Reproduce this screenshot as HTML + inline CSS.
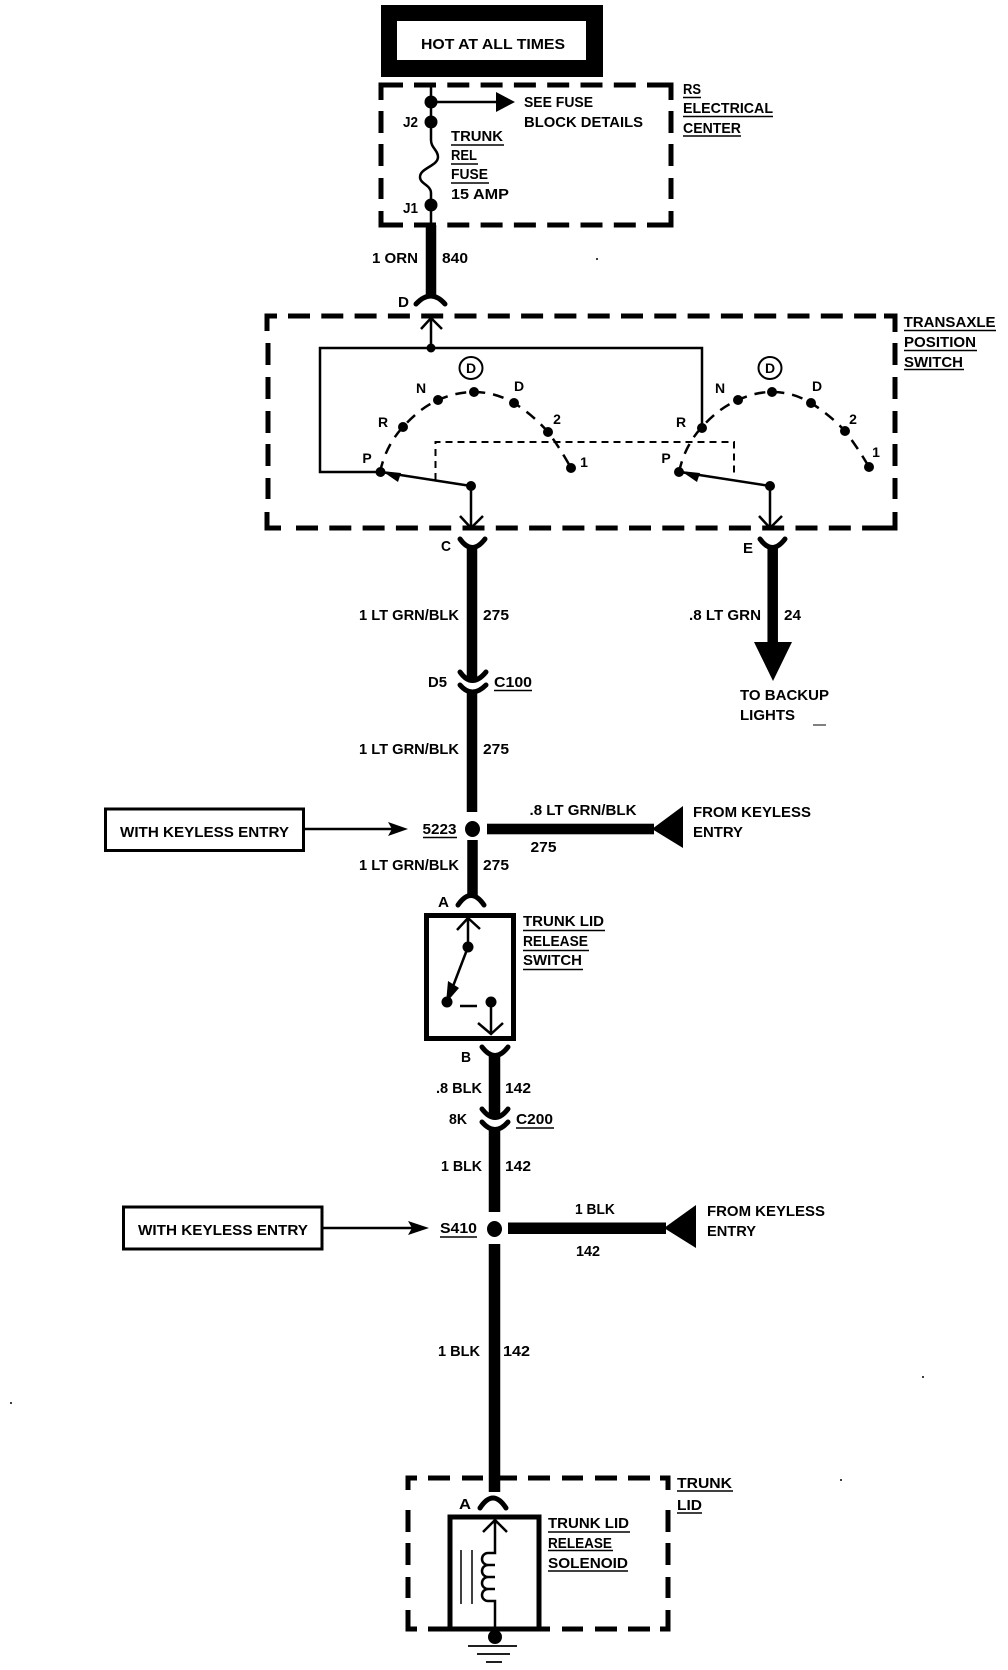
<!DOCTYPE html>
<html><head><meta charset="utf-8"><style>
html,body{margin:0;padding:0;background:#fff}
svg{display:block}
text{font-family:"Liberation Sans",sans-serif;font-size:15px;font-weight:bold;fill:#000}
.w{fill:none;stroke:#000;stroke-width:10.5}
.c{fill:none;stroke:#000;stroke-width:5;stroke-linecap:round}
.d{fill:none;stroke:#000;stroke-width:5}
.t{fill:none;stroke:#000;stroke-width:2.5}
.u{stroke:#000;stroke-width:1.5}
</style></head><body>
<svg width="1008" height="1670" viewBox="0 0 1008 1670" xmlns="http://www.w3.org/2000/svg">
<rect width="1008" height="1670" fill="#fff"/>

<!-- HOT box -->
<rect x="381" y="5" width="222" height="72" fill="#000"/>
<rect x="397" y="21" width="189" height="39" fill="#fff"/>
<text x="421" y="49" textLength="144" lengthAdjust="spacingAndGlyphs">HOT AT ALL TIMES</text>

<!-- RS box -->
<path class="d" d="M381 100V85H403"/>
<path class="d" d="M647 85H671V100"/>
<path class="d" d="M414 85H647" stroke-dasharray="22 11.3"/>
<path class="d" d="M381 111V133M381 144V166M381 178V199M671 111V133M671 144V166M671 178V199"/>
<path class="d" d="M381 211V225H403M647 225H671V211"/>
<path class="d" d="M414 225H647" stroke-dasharray="22 11.3"/>

<path class="t" d="M431 85V140C431 148 438 150 438 157C438 166 420 168 420 177C420 184 431 185 431 193V225"/>
<circle cx="431" cy="102" r="6.5"/><circle cx="431" cy="122" r="6.5"/><circle cx="431" cy="205" r="6.5"/>
<path class="t" d="M431 102H500"/><path d="M496 92L515 102L496 112Z"/>
<text x="524" y="107" textLength="69" lengthAdjust="spacingAndGlyphs">SEE FUSE</text>
<text x="524" y="127" textLength="119" lengthAdjust="spacingAndGlyphs">BLOCK DETAILS</text>
<text transform="translate(403,127) scale(.9,1)">J2</text>
<text transform="translate(403,213) scale(.9,1)">J1</text>
<text x="451" y="141" textLength="52" lengthAdjust="spacingAndGlyphs">TRUNK</text>
<path class="u" d="M451 145H504M451 164H478M451 183H489"/>
<text transform="translate(451,160) scale(.867,1)">REL</text>
<text transform="translate(451,179) scale(.925,1)">FUSE</text>
<text x="451" y="199" textLength="58" lengthAdjust="spacingAndGlyphs">15 AMP</text>
<text transform="translate(683,94) scale(.865,1)">RS</text>
<text x="683" y="113" textLength="90" lengthAdjust="spacingAndGlyphs">ELECTRICAL</text>
<text x="683" y="133" textLength="58" lengthAdjust="spacingAndGlyphs">CENTER</text>
<path class="u" d="M683 97.5H701M683 116.5H773M683 136H741"/>

<!-- 840 -->
<path class="w" d="M431 225V298"/>
<path class="c" d="M416 304Q431 288 445 304"/>
<text x="372" y="263" textLength="46" lengthAdjust="spacingAndGlyphs">1 ORN</text>
<text x="442" y="263" textLength="26" lengthAdjust="spacingAndGlyphs">840</text>
<text x="398" y="307" textLength="11" lengthAdjust="spacingAndGlyphs">D</text>

<!-- Transaxle box -->
<path class="d" d="M267 331V316H277"/>
<path class="d" d="M884 316H895V332"/>
<path class="d" d="M288 316H884" stroke-dasharray="22 11.3"/>
<path class="d" d="M268 343V365M268 377V399M268 411V433M268 444V466M268 478V499M895 343V365M895 377V399M895 411V433M895 444V466M895 478V499"/>
<path class="d" d="M267 512V528H281M884 528H895V512"/>
<path class="d" d="M296 528H884" stroke-dasharray="22 11.3"/>

<path class="t" d="M431 348V318M421 329L431 318L442 329"/>
<path class="t" d="M702 428V348H320V472H381"/>
<circle cx="431" cy="348" r="4.5"/>

<path fill="none" stroke="#000" stroke-width="2" stroke-dasharray="7 5" d="M435.5 480V442H734V476"/>

<!-- left arc -->
<path fill="none" stroke="#000" stroke-width="2.5" stroke-dasharray="11 8" d="M380 472Q386 445 403 427Q420 408 438 400Q456 392 474 392Q495 392 514 403Q533 415 548 432Q560 448 571 468"/>
<circle cx="380.5" cy="472" r="5"/><circle cx="403" cy="427" r="5"/><circle cx="438" cy="400" r="5"/><circle cx="474" cy="392" r="5"/><circle cx="514" cy="403" r="5"/><circle cx="548" cy="432" r="5"/><circle cx="571" cy="468" r="5"/>
<!-- right arc -->
<path fill="none" stroke="#000" stroke-width="2.5" stroke-dasharray="11 8" d="M679 472Q685 445 702 427Q719 408 738 400Q755 392 772 392Q793 392 811 403Q830 415 845 431Q858 448 869 467"/>
<circle cx="679" cy="472" r="5"/><circle cx="702" cy="428" r="5"/><circle cx="738" cy="400" r="5"/><circle cx="772" cy="392" r="5"/><circle cx="811" cy="403" r="5"/><circle cx="845" cy="431" r="5"/><circle cx="869" cy="467" r="5"/>

<ellipse cx="471" cy="368" rx="11.5" ry="11" fill="none" stroke="#000" stroke-width="2"/>
<ellipse cx="770" cy="368" rx="11.5" ry="11" fill="none" stroke="#000" stroke-width="2"/>
<text x="471" y="373" text-anchor="middle" style="font-size:14px">D</text>
<text x="770" y="373" text-anchor="middle" style="font-size:14px">D</text>
<text x="421" y="393" text-anchor="middle" style="font-size:14px">N</text>
<text x="519" y="391" text-anchor="middle" style="font-size:14px">D</text>
<text x="383" y="427" text-anchor="middle" style="font-size:14px">R</text>
<text x="557" y="424" text-anchor="middle" style="font-size:14px">2</text>
<text x="367" y="463" text-anchor="middle" style="font-size:14px">P</text>
<text x="584" y="467" text-anchor="middle" style="font-size:14px">1</text>
<text x="720" y="393" text-anchor="middle" style="font-size:14px">N</text>
<text x="817" y="391" text-anchor="middle" style="font-size:14px">D</text>
<text x="681" y="427" text-anchor="middle" style="font-size:14px">R</text>
<text x="853" y="424" text-anchor="middle" style="font-size:14px">2</text>
<text x="666" y="463" text-anchor="middle" style="font-size:14px">P</text>
<text x="876" y="457" text-anchor="middle" style="font-size:14px">1</text>

<!-- switch arms -->
<path class="t" d="M471 486L381 472M471 486V527M460 516L471 528L483 516"/>
<path d="M382 471L401 473L398 482Z"/>
<circle cx="471" cy="486" r="5"/>
<path class="t" d="M770 486L680 472M770 486V527M759 516L770 528L782 516"/>
<path d="M681 471L700 473L697 482Z"/>
<circle cx="770" cy="486" r="5"/>

<!-- C / E -->
<path class="c" d="M460 539Q472 556 485 539"/>
<path class="c" d="M760 539Q772 556 785 539"/>
<text x="441" y="551" textLength="10" lengthAdjust="spacingAndGlyphs">C</text>
<text x="743" y="553" textLength="10" lengthAdjust="spacingAndGlyphs">E</text>
<text x="903.6" y="327" textLength="92" lengthAdjust="spacingAndGlyphs">TRANSAXLE</text>
<text x="904" y="347" textLength="72" lengthAdjust="spacingAndGlyphs">POSITION</text>
<text x="904" y="367" textLength="59" lengthAdjust="spacingAndGlyphs">SWITCH</text>
<path class="u" d="M904 330.5H996M904 350.5H977M904 369.5H964"/>

<!-- E wire -->
<path class="w" d="M772.7 547V645"/>
<path d="M754 642H792L773 681Z"/>
<text x="689" y="620" textLength="72" lengthAdjust="spacingAndGlyphs">.8 LT GRN</text>
<text x="784" y="620" textLength="17" lengthAdjust="spacingAndGlyphs">24</text>
<text x="740" y="700" textLength="89" lengthAdjust="spacingAndGlyphs">TO BACKUP</text>
<text x="740" y="720" textLength="55" lengthAdjust="spacingAndGlyphs">LIGHTS</text>
<path d="M813 725H826" stroke="#000" stroke-width="1"/>

<!-- C wire -->
<path class="w" d="M472 547V679"/>
<path class="c" d="M460 672Q472 689 486 672"/>
<path class="c" d="M460 685Q472 699 486 685"/>
<path class="w" d="M472 691V812"/>
<text x="359" y="620" textLength="100" lengthAdjust="spacingAndGlyphs">1 LT GRN/BLK</text>
<text x="483" y="620" textLength="26" lengthAdjust="spacingAndGlyphs">275</text>
<text x="428" y="687" textLength="19" lengthAdjust="spacingAndGlyphs">D5</text>
<text x="494" y="687" textLength="38" lengthAdjust="spacingAndGlyphs">C100</text>
<path class="u" d="M494 690.5H532"/>
<text x="359" y="754" textLength="100" lengthAdjust="spacingAndGlyphs">1 LT GRN/BLK</text>
<text x="483" y="754" textLength="26" lengthAdjust="spacingAndGlyphs">275</text>

<!-- S223 -->
<ellipse cx="472.5" cy="829" rx="7.5" ry="8"/>
<path class="w" d="M472.5 840V897"/>
<rect x="487" y="823.7" width="167" height="10.6"/>
<path d="M652 829L683 806V848Z"/>
<rect x="105.5" y="809" width="198" height="41.5" fill="none" stroke="#000" stroke-width="3"/>
<text x="120" y="837" textLength="169" lengthAdjust="spacingAndGlyphs">WITH KEYLESS ENTRY</text>
<path class="t" d="M304 829H395"/><path d="M388 822L408 829L388 836L392 829Z"/>
<text x="422.5" y="834" textLength="34" lengthAdjust="spacingAndGlyphs">5223</text>
<path class="u" d="M423 837.5H457"/>
<text x="529.5" y="815" textLength="107" lengthAdjust="spacingAndGlyphs">.8 LT GRN/BLK</text>
<text x="530.5" y="852" textLength="26" lengthAdjust="spacingAndGlyphs">275</text>
<text x="693" y="817" textLength="118" lengthAdjust="spacingAndGlyphs">FROM KEYLESS</text>
<text x="693" y="837" textLength="50" lengthAdjust="spacingAndGlyphs">ENTRY</text>
<text x="359" y="870" textLength="100" lengthAdjust="spacingAndGlyphs">1 LT GRN/BLK</text>
<text x="483" y="870" textLength="26" lengthAdjust="spacingAndGlyphs">275</text>

<!-- switch -->
<path class="c" d="M458 905Q471 886 484 905"/>
<text x="438" y="907" textLength="11" lengthAdjust="spacingAndGlyphs">A</text>
<rect x="426.5" y="915.5" width="87" height="123" fill="none" stroke="#000" stroke-width="5"/>
<path class="t" d="M468 947V918M457 930L468 918L480 929"/>
<circle cx="468" cy="947" r="5.5"/>
<path class="t" d="M468 947L447 1002"/>
<path d="M446 1003L448 981L459 988Z"/>
<circle cx="447" cy="1002" r="5.5"/>
<path d="M460 1006H477" stroke="#000" stroke-width="2.5"/>
<circle cx="491" cy="1002" r="5.5"/>
<path class="t" d="M491 1002V1033M478 1023L491 1034L503 1023"/>
<text x="523" y="926" textLength="81" lengthAdjust="spacingAndGlyphs">TRUNK LID</text>
<text transform="translate(523,946) scale(.918,1)">RELEASE</text>
<text x="523" y="965" textLength="59" lengthAdjust="spacingAndGlyphs">SWITCH</text>
<path class="u" d="M523 930.5H605M523 950.5H589M523 969.5H583"/>

<!-- B wire -->
<path class="c" d="M482 1047Q495 1064 508 1047"/>
<path class="w" d="M494.5 1054V1118" style="stroke-width:11.5"/>
<path class="c" d="M482 1109Q495 1126 508 1109"/>
<path class="c" d="M482 1122Q495 1137 508 1122"/>
<path class="w" d="M494.5 1128V1212" style="stroke-width:11.5"/>
<text transform="translate(461,1062) scale(.925,1)">B</text>
<text x="436" y="1093" textLength="46" lengthAdjust="spacingAndGlyphs">.8 BLK</text>
<text x="505" y="1093" textLength="26" lengthAdjust="spacingAndGlyphs">142</text>
<text transform="translate(449,1124) scale(.94,1)">8K</text>
<text x="516" y="1124" textLength="37" lengthAdjust="spacingAndGlyphs">C200</text>
<path class="u" d="M516 1128H554"/>
<text x="441" y="1171" textLength="41" lengthAdjust="spacingAndGlyphs">1 BLK</text>
<text x="505" y="1171" textLength="26" lengthAdjust="spacingAndGlyphs">142</text>

<!-- S410 -->
<ellipse cx="494.5" cy="1229" rx="7.5" ry="8"/>
<path class="w" d="M494.5 1244V1492" style="stroke-width:11.5"/>
<rect x="508" y="1222.5" width="158" height="11.5"/>
<path d="M664 1228L696 1205V1248Z"/>
<rect x="123.5" y="1207" width="198.5" height="42" fill="none" stroke="#000" stroke-width="3"/>
<text x="138" y="1235" textLength="170" lengthAdjust="spacingAndGlyphs">WITH KEYLESS ENTRY</text>
<path class="t" d="M322 1228H415"/><path d="M408 1221L429 1228L408 1235L412 1228Z"/>
<text x="440" y="1233" textLength="37" lengthAdjust="spacingAndGlyphs">S410</text>
<path class="u" d="M440 1237H477"/>
<text transform="translate(575,1214) scale(.92,1)">1 BLK</text>
<text transform="translate(576,1256) scale(.96,1)">142</text>
<text x="707" y="1216" textLength="118" lengthAdjust="spacingAndGlyphs">FROM KEYLESS</text>
<text x="707" y="1236" textLength="49" lengthAdjust="spacingAndGlyphs">ENTRY</text>
<text x="438" y="1356" textLength="42" lengthAdjust="spacingAndGlyphs">1 BLK</text>
<text x="503" y="1356" textLength="27" lengthAdjust="spacingAndGlyphs">142</text>

<!-- Trunk lid box -->
<path class="d" d="M408 1490V1478H417M428 1478H450M462 1478H483M500 1478H517M528 1478H550M562 1478H583M595 1478H617M628 1478H650M660 1478H668V1490"/>
<path class="d" d="M408 1510V1532M408 1543V1565M408 1577V1598M668 1510V1532M668 1543V1565M668 1577V1598"/>
<path class="d" d="M408 1610V1629H417M428 1629H550M562 1629H583M595 1629H617M628 1629H650M660 1629H668V1610"/>
<path class="c" d="M480 1508Q493 1488 506 1508"/>
<text x="459" y="1509" textLength="12" lengthAdjust="spacingAndGlyphs">A</text>
<path class="d" d="M450 1629V1517H539V1629"/>
<path class="t" d="M495 1520V1553H488A6 6 0 0 0 488 1565H495H488A6 6 0 0 0 488 1577H495H488A6 6 0 0 0 488 1589H495H488A6 6 0 0 0 488 1601H495V1629M483 1532L495 1520L507 1532"/>
<path stroke="#000" stroke-width="1.5" d="M461 1550V1604M472 1550V1604"/>
<circle cx="495" cy="1637" r="7"/>
<path stroke="#000" stroke-width="1.7" d="M468 1646H517M477 1654H510M486 1662H502"/>
<text x="548" y="1528" textLength="81" lengthAdjust="spacingAndGlyphs">TRUNK LID</text>
<text transform="translate(548,1548) scale(.904,1)">RELEASE</text>
<text x="548" y="1568" textLength="80" lengthAdjust="spacingAndGlyphs">SOLENOID</text>
<path class="u" d="M548 1532H630M548 1550.5H613M548 1571H628"/>
<text x="677" y="1488" textLength="55" lengthAdjust="spacingAndGlyphs">TRUNK</text>
<text x="677" y="1510" textLength="25" lengthAdjust="spacingAndGlyphs">LID</text>
<path class="u" d="M677 1491H733M677 1513H702"/>

<!-- specks -->
<circle cx="597" cy="259" r="1"/><circle cx="11" cy="1403" r="1"/><circle cx="923" cy="1377" r="1"/><circle cx="841" cy="1480" r="1"/>
</svg>
</body></html>
